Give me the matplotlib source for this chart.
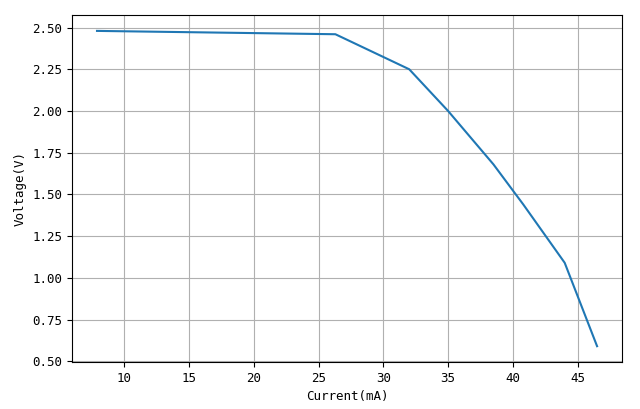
import matplotlib
matplotlib.use("Agg")
import matplotlib.pyplot as plt

# 电流-电压数据
current = [7.9, 26.3, 32.0, 35.0, 38.5, 40.8, 44.0, 46.5]
voltage = [2.48, 2.46, 2.25, 2.00, 1.68, 1.44, 1.09, 0.59]

plt.rcParams['font.family'] = ['DejaVu Sans Mono']
plt.rcParams['font.size'] = 9

fig = plt.figure(figsize = (6.4, 4.09), dpi = 100)
ax = fig.add_axes([0.1125, 0.115, 0.8595, 0.848])
ax.plot(current, voltage)
ax.set_xlabel("Current(mA)")
ax.set_ylabel("Voltage(V)")
ax.grid(True)
fig.savefig("out.png", dpi = 100)
